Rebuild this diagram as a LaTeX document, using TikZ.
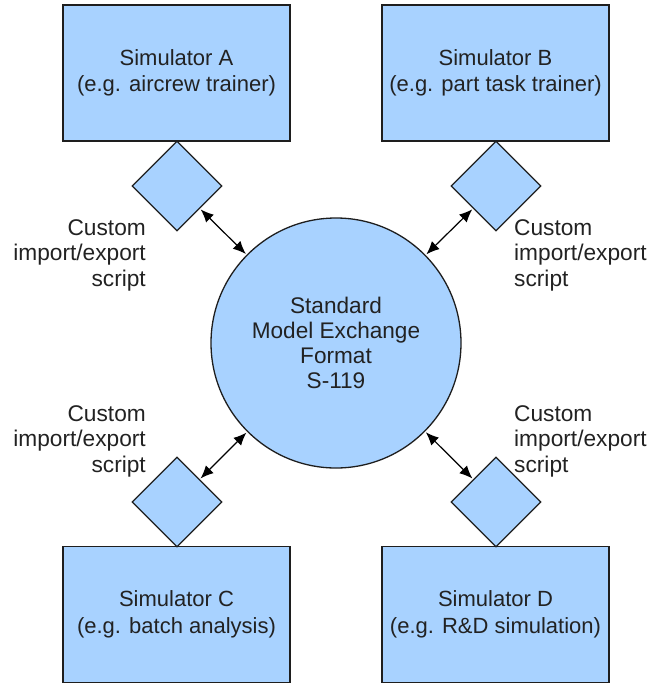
\documentclass[tikz,border=0pt]{standalone}
\usepackage{fontspec}
\setmainfont{Liberation Sans}
\usetikzlibrary{shapes.geometric,arrows.meta}
\definecolor{simfill}{RGB}{168,210,255}
\definecolor{simline}{RGB}{30,30,30}
\definecolor{simtext}{RGB}{34,34,34}
\tikzset{
  simbox/.style={draw=simline,fill=simfill,line width=1.3pt,minimum width=227pt,minimum height=136pt,inner sep=0pt,align=center,text=simtext,font=\fontsize{22}{26.5}\selectfont},
  scriptbox/.style={diamond,draw=simline,fill=simfill,line width=1.3pt,minimum width=90pt,minimum height=90pt,inner sep=0pt},
  hub/.style={circle,draw=simline,fill=simfill,line width=1.3pt,minimum size=250pt,inner sep=0pt,align=center,text=simtext,font=\fontsize{22.6}{25}\selectfont},
  scriptlabel/.style={inner sep=0pt,text=simtext,font=\fontsize{22.7}{25.5}\selectfont},
  link/.style={{Latex[length=13pt,width=11pt]}-{Latex[length=13pt,width=11pt]},line width=1.2pt,draw=black,shorten <=1pt,shorten >=1pt}
}
\begin{document}
\begin{tikzpicture}[x=1pt,y=-1pt]
                \useasboundingbox (0,0) rectangle (647,683);
                \clip (0,0) rectangle (647,683);
                \node[hub] (sim) at (336,343) {Standard\\Model Exchange\\Format\\S-119};
                \node[simbox] (simA) at (176.5,73) {Simulator A\\(e.g. aircrew trainer)};
                \node[simbox] (simB) at (495.5,73) {Simulator B\\(e.g. part task trainer)};
                \node[simbox] (simC) at (176.5,614.5) {Simulator C\\(e.g. batch analysis)};
                \node[simbox] (simD) at (495.5,614.5) {Simulator D\\(e.g. R\&D simulation)};
                \node[scriptbox] (scrA) at (177,186) {};
                \node[scriptbox] (scrB) at (496,186) {};
                \node[scriptbox] (scrC) at (177,502) {};
                \node[scriptbox] (scrD) at (496,502) {};
                \node[scriptlabel,align=right,anchor=east] (labA) at (146,255) {Custom\\import/export\\script};
                \node[scriptlabel,align=left,anchor=west] (labB) at (514,255) {Custom\\import/export\\script};
                \node[scriptlabel,align=right,anchor=east] (labC) at (146,441) {Custom\\import/export\\script};
                \node[scriptlabel,align=left,anchor=west] (labD) at (514,441) {Custom\\import/export\\script};
                \draw[link] (scrA) -- (sim);
                \draw[link] (scrB) -- (sim);
                \draw[link] (scrC) -- (sim);
                \draw[link] (scrD) -- (sim);
            \end{tikzpicture}
\end{document}
